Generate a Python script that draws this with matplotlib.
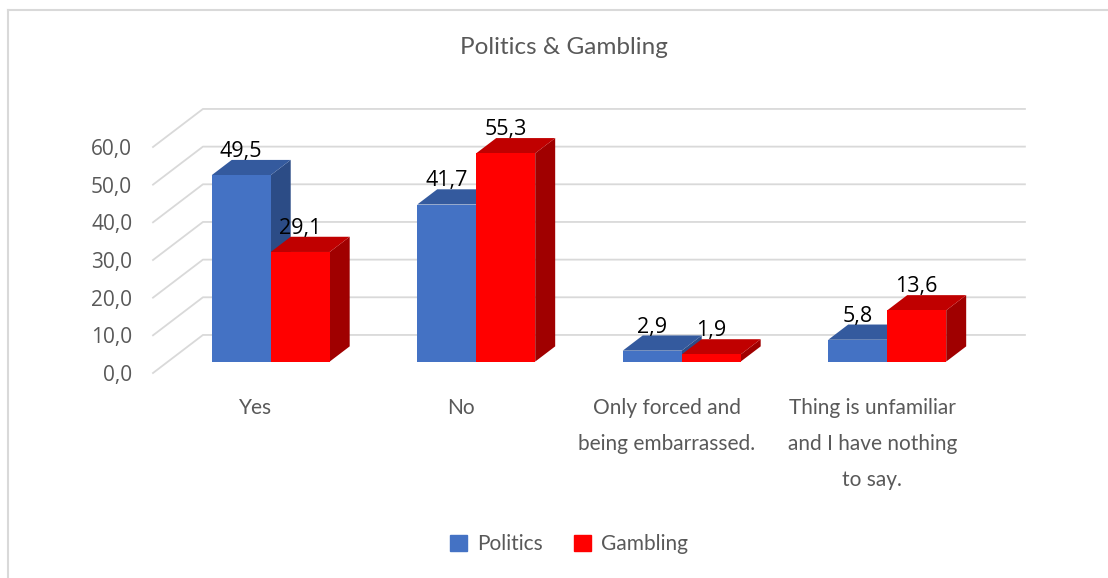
import matplotlib
matplotlib.use('Agg')
from matplotlib import pyplot as plt
from matplotlib.patches import Patch

categories = ['Yes', 'No', 'Only forced and\nbeing embarrassed.',
              'Thing is unfamiliar\nand I have nothing\nto say.']
series = ['Politics', 'Gambling']
politics = [49.5, 41.7, 2.9, 5.8]
gambling = [29.1, 55.3, 1.9, 13.6]
yticks = [0, 10, 20, 30, 40, 50, 60]

# face colours: front, top, side
faces = {
    'Politics': ('#4472c4', '#345a9e', '#2c4c86'),
    'Gambling': ('#ff0000', '#c00000', '#a00000'),
}
grid_col = '#d9d9d9'
text_col = '#595959'

# fake 3d: how far the back wall sits from the front plane, in data units
DX, DY = 0.243, 10.1
D0, D1 = 0.3, 0.7      # bar depth range (0 = front, 1 = back wall)
W = 0.287              # width of one bar

fig = plt.figure(figsize=(11.08, 5.78), dpi=100)
ax = fig.add_axes([153 / 1108, 205 / 578, 822 / 1108, 226 / 578])
ax.set_xlim(-0.5, 3.5)
ax.set_ylim(0, 60)
for s in ax.spines.values():
    s.set_visible(False)

# floor diagonals + back wall gridlines
for v in yticks:
    ax.plot([-0.5, -0.5 + DX, 3.5 + DX], [v, v + DY, v + DY],
            color=grid_col, lw=1.3, clip_on=False, zorder=1)

ax.set_xticks([])
ax.set_yticks(yticks)
ax.set_yticklabels(['{0:.1f}'.format(v).replace('.', ',') for v in yticks],
                   fontsize=15, color=text_col, family='Open Sans')
ax.tick_params(axis='y', length=0, pad=15)

for j, (name, vals) in enumerate([('Politics', politics), ('Gambling', gambling)]):
    front, top, side = faces[name]
    for i, v in enumerate(vals):
        x0 = i - W + j * W
        x1 = x0 + W
        # side and top first, front face drawn with bar()
        ax.fill([x1 + D0 * DX, x1 + D1 * DX, x1 + D1 * DX, x1 + D0 * DX],
                [D0 * DY, D1 * DY, v + D1 * DY, v + D0 * DY],
                color=side, lw=0, clip_on=False, zorder=2 + j)
        ax.fill([x0 + D0 * DX, x1 + D0 * DX, x1 + D1 * DX, x0 + D1 * DX],
                [v + D0 * DY, v + D0 * DY, v + D1 * DY, v + D1 * DY],
                color=top, lw=0, clip_on=False, zorder=2 + j)
        ax.bar(x0 + D0 * DX, v, width=W, bottom=D0 * DY, align='edge',
               color=front, lw=0, clip_on=False, zorder=2 + j)
        ax.annotate('{0:.1f}'.format(v).replace('.', ','),
                    xy=(x0 + W / 2 + D0 * DX, v + D0 * DY),
                    xytext=(0, 17), textcoords='offset points',
                    ha='center', va='center', fontsize=15.5, color='black',
                    family='Open Sans', zorder=5)

for i, lab in enumerate(categories):
    ax.annotate(lab, xy=(i, 0), xytext=(0, -18), textcoords='offset points',
                ha='center', va='top', fontsize=15, color=text_col,
                family='Lato', linespacing=2.0)

fig.text(564 / 1108, 1 - 48 / 578, 'Politics & Gambling', ha='center',
         va='center', fontsize=17.5, color=text_col, family='Lato')

handles = [Patch(color=faces[s][0], label=s) for s in series]
fig.legend(handles=handles, loc='center', bbox_to_anchor=(569 / 1108, 34 / 578),
           ncol=2, frameon=False, handlelength=0.8, handleheight=0.8,
           handletextpad=0.5, columnspacing=1.5,
           prop={'family': 'Lato', 'size': 15}, labelcolor=text_col)

# chart frame (left and top edges only)
fig.add_artist(plt.Line2D([8 / 1108, 8 / 1108], [0, 1 - 10 / 578],
                          color='#d9d9d9', lw=1.5))
fig.add_artist(plt.Line2D([8 / 1108, 1], [1 - 10 / 578, 1 - 10 / 578],
                          color='#d9d9d9', lw=1.5))

fig.savefig('out.png', dpi=100)
